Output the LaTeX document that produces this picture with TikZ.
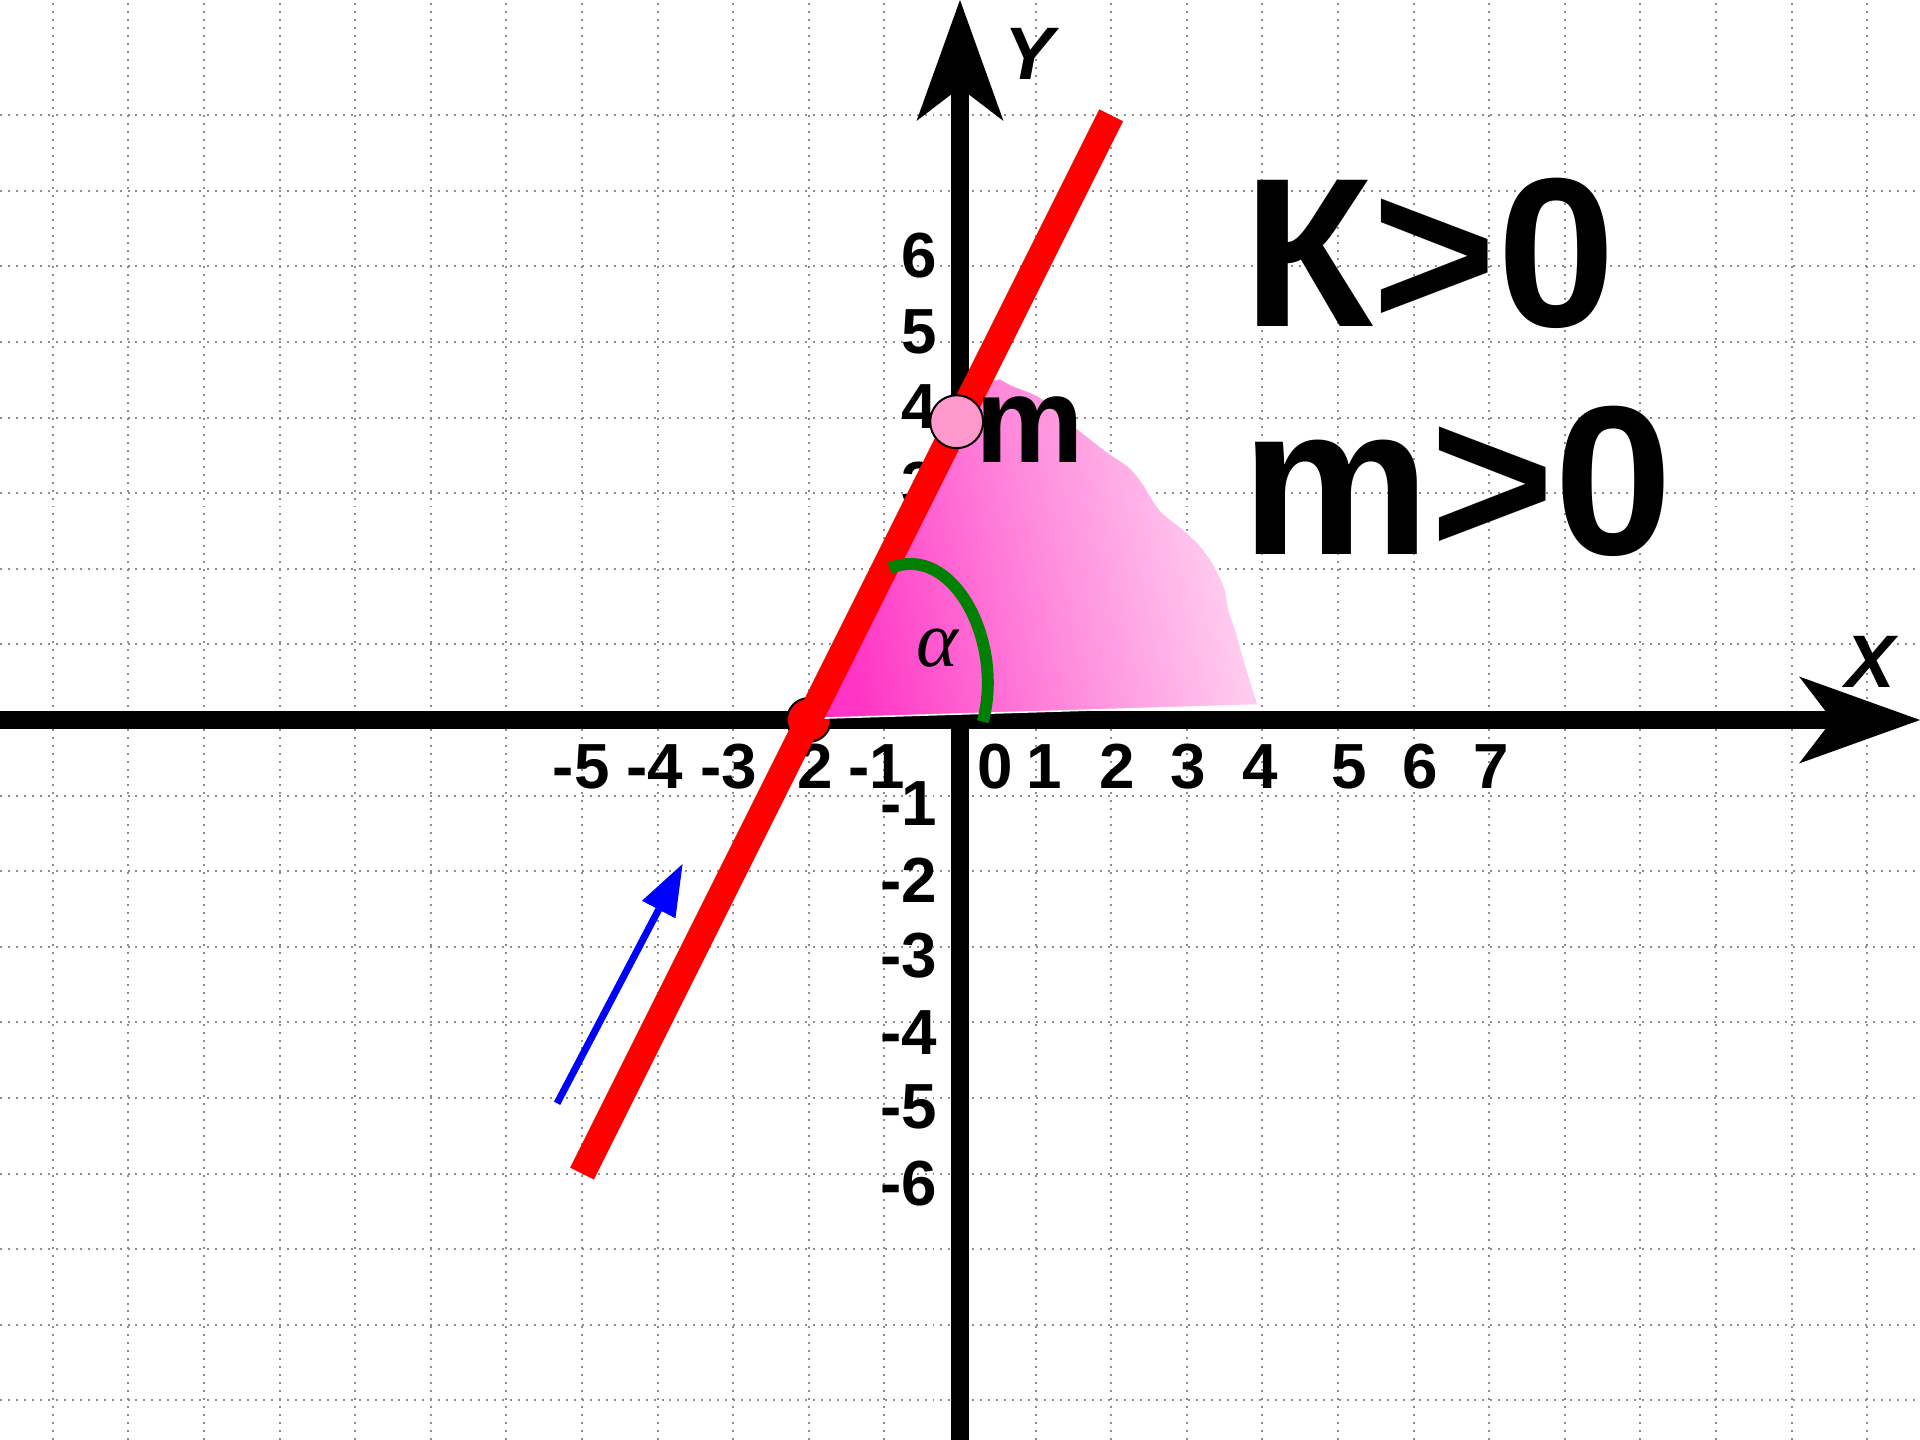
\documentclass[tikz,border=0pt]{standalone}
\usepackage{fontspec}
\setmainfont{Liberation Sans}
\newfontfamily\serifgr{Liberation Serif}
\usetikzlibrary{arrows.meta}
\definecolor{gridln}{HTML}{8C8C8C}
\definecolor{lnred}{HTML}{FF0000}
\definecolor{dotpink}{HTML}{FF99CC}
\definecolor{arcgreen}{HTML}{008000}
\definecolor{arrblue}{HTML}{0000FF}
\definecolor{pkdeep}{HTML}{FF33C4}
\definecolor{pkmid}{HTML}{FF8ADC}
\definecolor{pklight}{HTML}{FFD8F2}
\tikzset{
  gridline/.style={draw=gridln,line width=0.75pt,dash pattern=on 0.75pt off 2.25pt},
  axarrow/.style={line width=7pt,-{Stealth[length=1.6cm,width=1.15cm,inset=0.44cm,line width=0pt]}},
  tick/.style={font=\fontsize{24}{28}\selectfont\bfseries,inner sep=0pt},
  ytick/.style={tick,anchor=east},
  axname/.style={font=\fontsize{28}{32}\selectfont\bfseries\itshape,inner sep=0pt,anchor=base},
  cond/.style={font=\fontsize{80}{90}\selectfont\bfseries,inner sep=0pt,anchor=base west},
  spot/.style={circle,draw=black,line width=0.75pt,inner sep=0pt},
  kline/.style={draw=lnred,line width=10pt},
  region/.style={draw=white,line width=0.6pt,top color=pklight,bottom color=pkdeep,
                 middle color=pkmid,shading angle=-78},
  angarc/.style={draw=arcgreen,line width=4.5pt},
  slope/.style={draw=arrblue,line width=2.65pt,-{Triangle[length=0.68cm,width=0.5cm,line width=0pt]}},
}
\begin{document}
\begin{tikzpicture}[x=1cm,y=1cm]
\useasboundingbox (-12.7,-9.525) rectangle (12.7,9.525);
\fill[white] (-12.7,-9.525) rectangle (12.7,9.525);

\foreach \i in {-12,...,12}
  \draw[gridline] (\i,-9.525) -- (\i,9.525);
\foreach \j in {-9,...,8}
  \draw[gridline] (-12.7,\j) -- (12.7,\j);

\coordinate (xl) at (-12.7,0);
\coordinate (xr) at (12.7,0);
\coordinate (yb) at (0,-9.525);
\coordinate (yt) at (0,9.525);
\draw[axarrow] (xl) -- (xr);
\draw[axarrow] (yb) -- (yt);

\foreach \xv/\xl [count=\i] in {-5.01/-5,-4.04/-4,-3.06/-3,-2.06/-2,-1.10/-1,0.47/0,1.12/1,
                                 2.08/2,3.02/3,3.97/4,5.15/5,6.09/6,7.03/7}
  \node[tick] (xt\i) at (\xv,-0.615) {\xl};
\foreach \yv/\yl [count=\i] in {6.14/6,5.13/5,4.15/4,3.12/3,2.12/2,1.12/1,-1.11/-1,
                                 -2.12/-2,-3.12/-3,-4.13/-4,-5.12/-5,-6.13/-6}
  \node[ytick] (yt\i) at (-0.30,\yv) {\yl};

\node[spot,fill=lnred,minimum size=0.58cm] (root) at (-2,0) {};

\path[region] (-1.908,0.022) -- (0.437,4.498) -- plot[smooth] coordinates {
  (0.529,4.520) (0.688,4.432) (1.053,4.277) (1.418,3.969) (1.918,3.572)
  (2.238,3.351) (2.421,3.131) (2.649,2.778) (2.967,2.514) (3.195,2.293)
  (3.377,2.028) (3.514,1.720) (3.559,1.455) (3.651,1.191) (3.788,0.705)
  (3.947,0.198)} -- cycle;

\coordinate (lo) at (-5,-6);
\coordinate (hi) at (2,8);
\draw[kline] (lo) -- (hi);

\draw[angarc] (-0.929,2.007) .. controls (-0.101,2.358) and (0.588,1.045) .. (0.302,-0.022);
\node[font={\fontsize{30}{34}\serifgr\itshape},inner sep=0pt] (alpha) at (-0.304,0.948) {α};

\node[spot,fill=dotpink,minimum size=0.70cm] (icpt) at (-0.044,3.946) {};
\node[font=\fontsize{46}{50}\selectfont\bfseries,inner sep=0pt,anchor=base west] (mlab) at (0.198,3.40) {m};

\node[cond] (kpos) at (3.740,5.203) {К>0};
\node[cond] (mpos) at (3.720,2.183) {m>0};

\coordinate (bt) at (-5.33,-5.07);
\coordinate (bh) at (-3.67,-1.905);
\draw[slope] (bt) -- (bh);

\node[axname] (xname) at (12.04,0.433) {X};
\node[axname] (yname) at (0.913,8.467) {Y};
\end{tikzpicture}
\end{document}
